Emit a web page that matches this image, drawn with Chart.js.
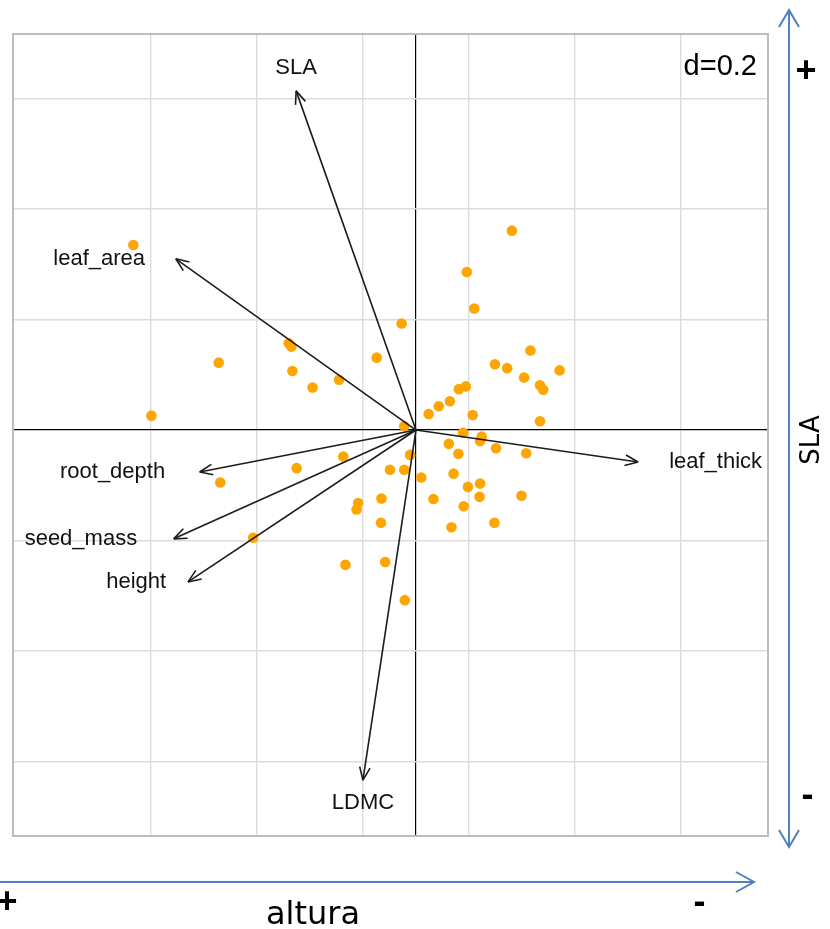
<!DOCTYPE html>
<html>
<head>
<meta charset="utf-8">
<script src="https://cdn.jsdelivr.net/npm/chart.js@4.4.1/dist/chart.umd.min.js"></script>
<style>
  html, body { margin: 0; padding: 0; background: #ffffff; }
  canvas { display: block; }
</style>
</head>
<body>
<canvas id="biplot" width="830" height="929"></canvas>
<script>
// Trait loadings (arrows) on the first two axes
const traitNames = ['SLA', 'leaf_area', 'root_depth', 'seed_mass', 'height', 'LDMC', 'leaf_thick'];
const traitAxis1 = [-0.226, -0.453, -0.408, -0.457, -0.430, -0.100, 0.419];
const traitAxis2 = [0.614, 0.310, -0.076, -0.197, -0.275, -0.634, -0.058];

// Species scores (points) on the first two axes
const siteAxis1 = [-0.533, -0.372, -0.240, -0.235, -0.233, -0.195, -0.499, -0.145, -0.074, -0.027,
                   -0.022, 0.181, 0.096, 0.110, 0.216, 0.149, 0.172, 0.271, 0.204, 0.234,
                   0.240, 0.094, 0.081, 0.064, 0.043, 0.024, 0.107, 0.234, 0.089, 0.124,
                   0.121, 0.062, 0.080, 0.151, 0.208, -0.137, -0.011, -0.225, -0.369, -0.049,
                   -0.022, 0.010, 0.071, 0.098, 0.121, 0.120, 0.199, 0.033, -0.065, -0.109,
                   -0.112, 0.090, -0.066, 0.148, 0.067, -0.307, -0.133, -0.058, -0.021];
const siteAxis2 = [0.335, 0.122, 0.157, 0.151, 0.107, 0.077, 0.026, 0.091, 0.131, 0.193,
                   0.007, 0.361, 0.286, 0.220, 0.144, 0.119, 0.112, 0.108, 0.095, 0.081,
                   0.073, 0.079, 0.074, 0.052, 0.043, 0.029, 0.027, 0.016, -0.005, -0.012,
                   -0.020, -0.025, -0.043, -0.033, -0.042, -0.048, -0.045, -0.069, -0.095, -0.072,
                   -0.072, -0.086, -0.079, -0.103, -0.097, -0.121, -0.119, -0.125, -0.124, -0.132,
                   -0.144, -0.138, -0.168, -0.168, -0.176, -0.195, -0.244, -0.239, -0.308];

// Grid positions (cell size d = 0.2) and visible window
const axis1Ticks = [-0.5, -0.3, -0.1, 0, 0.1, 0.3, 0.5];
const axis2Ticks = [-0.6, -0.4, -0.2, 0, 0.2, 0.4, 0.6];
const axis1Range = [-0.760, 0.664];
const axis2Range = [-0.735, 0.717];

const gridLabel = 'd=0.2';
const sideLabel = 'SLA';
const bottomLabel = 'altura';
const plusSign = '+';
const minusSign = '-';

const LABEL_FONT = '22px "Liberation Sans", Arial, sans-serif';
const ANNOT_BLUE = '#4f81bd';

const gridOptions = {
  drawTicks: false,
  color: c => (c.tick && c.tick.value === 0) ? '#000000' : '#dcdcdc',
  lineWidth: c => (c.tick && c.tick.value === 0) ? 1.2 : 1.4
};

const biplotDecor = {
  id: 'biplotDecor',
  afterDatasetsDraw(chart) {
    const ctx = chart.ctx;
    const xs = chart.scales.x, ys = chart.scales.y;
    const ox = xs.getPixelForValue(0), oy = ys.getPixelForValue(0);
    const headLen = 14, headAng = 22 * Math.PI / 180;
    ctx.save();
    ctx.strokeStyle = '#1c1c1c';
    ctx.lineWidth = 1.6;
    ctx.fillStyle = '#111111';
    ctx.font = LABEL_FONT;
    traitNames.forEach((name, i) => {
      const tx = xs.getPixelForValue(traitAxis1[i]);
      const ty = ys.getPixelForValue(traitAxis2[i]);
      const dx = tx - ox, dy = ty - oy;
      const ang = Math.atan2(dy, dx);
      // open arrowhead
      ctx.beginPath();
      [-1, 1].forEach(s => {
        ctx.moveTo(tx - headLen * Math.cos(ang + s * headAng), ty - headLen * Math.sin(ang + s * headAng));
        ctx.lineTo(tx, ty);
      });
      ctx.stroke();
      // label beyond the tip
      const w = ctx.measureText(name).width;
      ctx.textBaseline = 'middle';
      if (Math.abs(dx) >= Math.abs(dy)) {
        const gap = 5 + 0.28 * w;
        if (dx > 0) { ctx.textAlign = 'left'; ctx.fillText(name, tx + gap, ty); }
        else { ctx.textAlign = 'right'; ctx.fillText(name, tx - gap, ty); }
      } else {
        ctx.textAlign = 'center';
        ctx.fillText(name, tx, ty + (dy < 0 ? -23 : 23));
      }
    });
    ctx.restore();
  },
  afterDraw(chart) {
    const ctx = chart.ctx;
    const a = chart.chartArea;
    ctx.save();
    // frame
    ctx.strokeStyle = '#bdbdbd';
    ctx.lineWidth = 2;
    ctx.strokeRect(a.left, a.top, a.right - a.left, a.bottom - a.top);

    // grid size label
    ctx.fillStyle = '#000000';
    ctx.font = '29px "Liberation Sans", Arial, sans-serif';
    ctx.textAlign = 'right';
    ctx.textBaseline = 'alphabetic';
    ctx.fillText(gridLabel, a.right - 11, a.top + 41);

    // direction arrows
    ctx.strokeStyle = ANNOT_BLUE;
    ctx.lineWidth = 2;
    ctx.lineJoin = 'miter';
    const vx = a.right + 21;
    ctx.beginPath();
    ctx.moveTo(vx, 10); ctx.lineTo(vx, 847);
    ctx.moveTo(vx - 10, 27); ctx.lineTo(vx, 10); ctx.lineTo(vx + 10, 27);
    ctx.moveTo(vx - 10, 830); ctx.lineTo(vx, 847); ctx.lineTo(vx + 10, 830);
    ctx.stroke();
    const hy = 882;
    ctx.beginPath();
    ctx.moveTo(0, hy); ctx.lineTo(754, hy);
    ctx.moveTo(736, hy - 10); ctx.lineTo(754, hy); ctx.lineTo(736, hy + 10);
    ctx.stroke();

    // axis names
    ctx.fillStyle = '#000000';
    ctx.font = '26px "DejaVu Sans", sans-serif';
    ctx.save();
    ctx.translate(819, 440);
    ctx.rotate(-Math.PI / 2);
    ctx.textAlign = 'center';
    ctx.textBaseline = 'alphabetic';
    ctx.fillText(sideLabel, 0, 0);
    ctx.restore();
    ctx.font = '32px "DejaVu Sans", sans-serif';
    ctx.textAlign = 'center';
    ctx.fillText(bottomLabel, 313, 924);

    // signs
    ctx.font = 'bold 36px "Liberation Sans", Arial, sans-serif';
    ctx.textAlign = 'center';
    ctx.fillText(plusSign, 806, 82);
    ctx.fillText(plusSign, 7, 913);
    ctx.fillText(minusSign, 807.5, 806);
    ctx.fillText(minusSign, 699.5, 912.5);
    ctx.restore();
  }
};

const arrowSets = traitNames.map((name, i) => ({
  label: name,
  data: [{ x: 0, y: 0 }, { x: traitAxis1[i], y: traitAxis2[i] }],
  showLine: true,
  borderColor: '#1c1c1c',
  borderWidth: 1.6,
  pointRadius: 0,
  fill: false,
  order: 1
}));

const siteSet = {
  label: 'species',
  data: siteAxis1.map((x, i) => ({ x: x, y: siteAxis2[i] })),
  backgroundColor: '#ffa500',
  borderWidth: 0,
  pointRadius: 5.3,
  pointHoverRadius: 5.3,
  order: 2
};

new Chart(document.getElementById('biplot').getContext('2d'), {
  type: 'scatter',
  data: { datasets: [...arrowSets, siteSet] },
  options: {
    responsive: false,
    animation: false,
    devicePixelRatio: 1,
    layout: { padding: { left: 13, top: 34, right: 62, bottom: 93 } },
    plugins: { legend: { display: false }, tooltip: { enabled: false } },
    scales: {
      x: {
        type: 'linear',
        min: axis1Range[0], max: axis1Range[1],
        afterBuildTicks: s => { s.ticks = axis1Ticks.map(v => ({ value: v })); },
        ticks: { display: false },
        grid: gridOptions,
        border: { display: false }
      },
      y: {
        type: 'linear',
        min: axis2Range[0], max: axis2Range[1],
        afterBuildTicks: s => { s.ticks = axis2Ticks.map(v => ({ value: v })); },
        ticks: { display: false },
        grid: gridOptions,
        border: { display: false }
      }
    }
  },
  plugins: [biplotDecor]
});
</script>
</body>
</html>
